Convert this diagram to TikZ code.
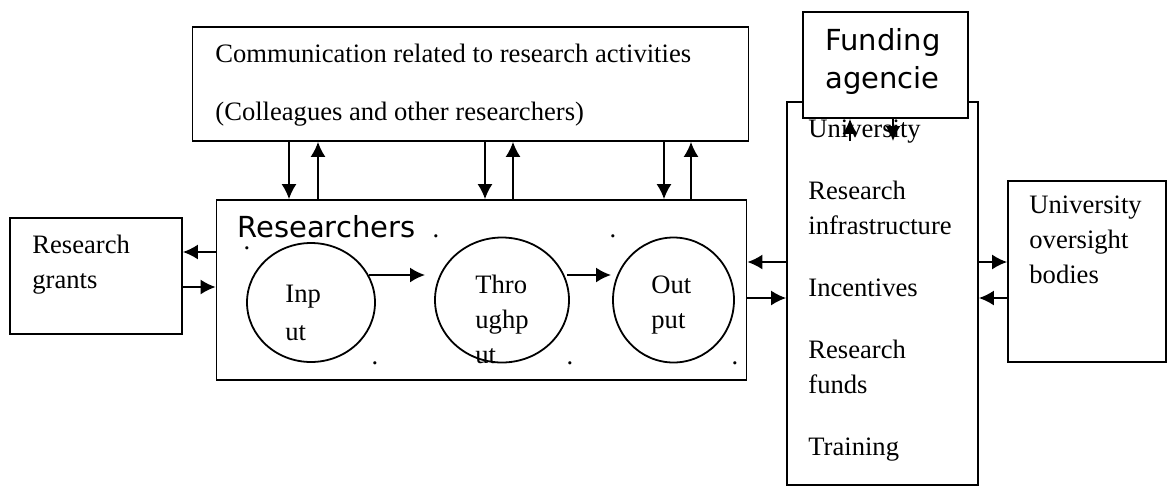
\documentclass[tikz,border=0pt]{standalone}
\usepackage{fontspec}
\setmainfont{Liberation Serif}
\newfontfamily\dejavu{DejaVu Sans}
\usetikzlibrary{arrows.meta}
\usetikzlibrary{shapes.geometric}

\tikzset{
    box/.style={draw, line width=0.9pt, inner sep=0pt},
    blob/.style={draw, ellipse, line width=0.9pt, inner sep=0pt},
    txt/.style={font=\fontsize{13.3}{17.5}\selectfont, align=left, inner sep=0pt, anchor=base west},
    sans/.style={font=\dejavu\fontsize{14.5}{19}\selectfont, align=left, inner sep=0pt, anchor=base west},
    arr/.style={-{Latex[length=7.5pt,width=7.5pt]}, line width=0.9pt}
}

\begin{document}
\begin{tikzpicture}[x=0.5pt,y=-0.5pt]
    \useasboundingbox (0,0) rectangle (1168,489);

    % Boxes
    \node[box, minimum width=278pt, minimum height=57pt] (comm) at (470.5,84) {};
    \node[box, minimum width=265pt, minimum height=90pt] (res) at (481.5,290) {};
    \node[box, minimum width=86pt, minimum height=58pt] (grants) at (96,276) {};
    \node[box, minimum width=95.5pt, minimum height=191.5pt] (univ) at (882.5,293.5) {};
    \node[box, fill=white, minimum width=82.5pt, minimum height=53pt] (fund) at (885.5,65) {};
    \node[box, minimum width=79pt, minimum height=90.5pt] (overs) at (1087,271.5) {};

    % Stages
    \node[blob, minimum width=64pt, minimum height=59.5pt] (inp) at (311,302.5) {};
    \node[blob, minimum width=67pt, minimum height=62.5pt] (thr) at (502,300) {};
    \node[blob, minimum width=60.5pt, minimum height=62.5pt] (outp) at (673.5,300) {};

    % Texts (anchored at the baseline of the last line)
    \node[txt] (commtxt) at (215,120) {Communication related to research activities\\[11.5pt](Colleagues and other researchers)};
    \node[sans] (restxt) at (237,237) {Researchers};
    \node[txt] (granttxt) at (32,288) {Research\\grants};
    \node[sans] (fundtxt) at (825,88) {Funding\\agencie};
    \node[txt] (univtxt) at (808,455) {University\\[13.5pt]Research\\infrastructure\\[13.5pt]Incentives\\[13.5pt]Research\\funds\\[13.5pt]Training};
    \node[txt] (overstxt) at (1029,283) {University\\oversight\\bodies};
    \node[txt, font=\fontsize{13.3}{19}\selectfont] (inptxt) at (285,340) {Inp\\ut};
    \node[txt] (thrtxt) at (475,363) {Thro\\ughp\\ut};
    \node[txt] (outptxt) at (651,328) {Out\\put};

    % Stray dots
    \node[txt, anchor=base] (d1) at (247,249) {.};
    \node[txt, anchor=base] (d2) at (436,237) {.};
    \node[txt, anchor=base] (d3) at (613,237) {.};
    \node[txt, anchor=base] (d4) at (375,364) {.};
    \node[txt, anchor=base] (d5) at (570,364) {.};
    \node[txt, anchor=base] (d6) at (735,364) {.};

    % branching coordinates
    \coordinate (c1) at (289,0);
    \coordinate (c2) at (318,0);
    \coordinate (c3) at (485,0);
    \coordinate (c4) at (513,0);
    \coordinate (c5) at (664,0);
    \coordinate (c6) at (691,0);
    \coordinate (h1) at (0,252);
    \coordinate (h2) at (0,287);
    \coordinate (h3) at (0,262);
    \coordinate (h4) at (0,298);
    \coordinate (h5) at (0,275);
    \coordinate (f1) at (850,141);
    \coordinate (f2) at (893,141);
    \coordinate (s1) at (425,275);
    \coordinate (s2) at (611,275);

    % Lines
    \draw[arr] (c1 |- comm.south) -- (c1 |- res.north);
    \draw[arr] (c2 |- res.north) -- (c2 |- comm.south);
    \draw[arr] (c3 |- comm.south) -- (c3 |- res.north);
    \draw[arr] (c4 |- res.north) -- (c4 |- comm.south);
    \draw[arr] (c5 |- comm.south) -- (c5 |- res.north);
    \draw[arr] (c6 |- res.north) -- (c6 |- comm.south);
    \draw[arr] (h1 -| res.west) -- (h1 -| grants.east);
    \draw[arr] (h2 -| grants.east) -- (h2 -| res.west);
    \draw[arr] (h3 -| univ.west) -- (h3 -| res.east);
    \draw[arr] (h4 -| res.east) -- (h4 -| univ.west);
    \draw[arr] (h3 -| univ.east) -- (h3 -| overs.west);
    \draw[arr] (h4 -| overs.west) -- (h4 -| univ.east);
    \draw[arr] (f1) -- (f1 |- fund.south);
    \draw[arr] (f2 |- fund.south) -- (f2);
    \draw[arr] (h5 -| inp.east) ++(-7,0) -- (s1);
    \draw[arr] (h5 -| thr.east) ++(-3,0) -- (s2);
\end{tikzpicture}
\end{document}
